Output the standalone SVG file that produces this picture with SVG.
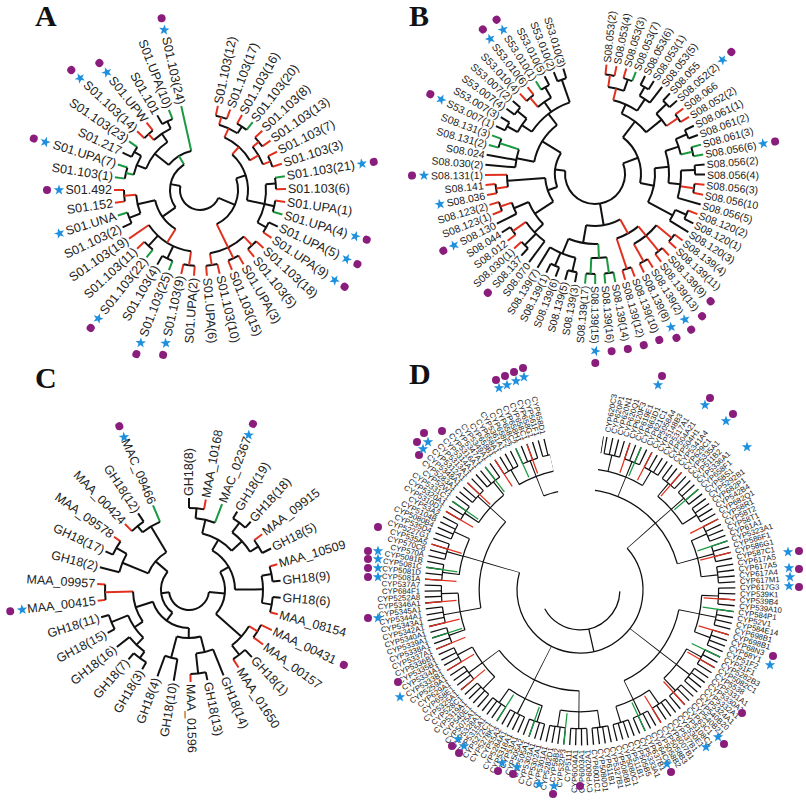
<svg xmlns="http://www.w3.org/2000/svg" xmlns:xlink="http://www.w3.org/1999/xlink" width="806" height="800" viewBox="0 0 806 800">
<style>
text{font-family:"Liberation Sans",Arial,sans-serif;fill:#222;dominant-baseline:central}
.e{text-anchor:end}
.pl{font-family:"Liberation Serif","Times New Roman",serif;font-weight:bold;font-size:30px;dominant-baseline:auto;fill:#111}
path,circle.c{fill:none;stroke-width:2;stroke:#111}
.k{stroke:#111}.r{stroke:#e2301f}.g{stroke:#1a9a40}
.dt{fill:#8a1c7c;stroke:none}
#pA text,#pC text{font-size:12.5px}#pB text{font-size:10.5px}#pD text{font-size:7.8px}
#pD path,#pD circle.c{stroke-width:1.2}
</style>
<defs>
<path id="st" d="M0,-5.5L1.3,-1.8L5.2,-1.7L2.1,0.7L3.2,4.5L0,2.2L-3.2,4.5L-2.1,0.7L-5.2,-1.7L-1.3,-1.8Z" style="fill:#1e90dd;stroke:none"/>
<clipPath id="dclip"><polygon points="0,0 52,-255 260,-260 260,260 -260,260 -260,-260 -43,-256"/></clipPath>
</defs>
<rect width="806" height="800" fill="#fff"/>
<text class="pl" x="35" y="26">A</text>
<text class="pl" x="409" y="26">B</text>
<text class="pl" x="35" y="388">C</text>
<text class="pl" x="409" y="384">D</text>

<!-- PANEL A -->
<g id="pA" transform="translate(200,190)">
<g id="edgesA">
<path class="r" d="M76 0H86" transform="rotate(-78)"/><path class="r" d="M76 0H86" transform="rotate(-69.4)"/><path class="r" d="M76 0H86" transform="rotate(-60.8)"/><path class="g" d="M76 0H86" transform="rotate(-52.2)"/><path class="r" d="M76 0H86" transform="rotate(-43.6)"/><path class="r" d="M76 0H86" transform="rotate(-35)"/><path class="r" d="M76 0H86" transform="rotate(-26.4)"/><path class="r" d="M76 0H86" transform="rotate(-17.8)"/><path class="g" d="M76 0H86" transform="rotate(-9.2)"/><path class="r" d="M76 0H86" transform="rotate(-0.6)"/><path class="r" d="M76 0H86" transform="rotate(8)"/><path class="g" d="M76 0H86" transform="rotate(16.6)"/><path class="k" d="M76 0H86" transform="rotate(25.2)"/><path class="r" d="M76 0H86" transform="rotate(33.8)"/><path class="r" d="M76 0H86" transform="rotate(42.4)"/><path class="r" d="M76 0H86" transform="rotate(51)"/><path class="r" d="M76 0H86" transform="rotate(59.6)"/><path class="r" d="M76 0H86" transform="rotate(68.2)"/><path class="r" d="M76 0H86" transform="rotate(76.8)"/><path class="r" d="M76 0H86" transform="rotate(85.4)"/><path class="r" d="M76 0H86" transform="rotate(94)"/><path class="r" d="M76 0H86" transform="rotate(102.6)"/><path class="g" d="M76 0H86" transform="rotate(111.2)"/><path class="k" d="M76 0H86" transform="rotate(119.8)"/><path class="g" d="M76 0H86" transform="rotate(128.4)"/><path class="r" d="M76 0H86" transform="rotate(137)"/><path class="r" d="M62 0H86" transform="rotate(145.6)"/><path class="k" d="M76 0H86" transform="rotate(154.2)"/><path class="g" d="M76 0H86" transform="rotate(162.8)"/><path class="r" d="M76 0H86" transform="rotate(171.4)"/><path class="r" d="M76 0H86" transform="rotate(180)"/><path class="g" d="M76 0H86" transform="rotate(188.6)"/><path class="g" d="M76 0H86" transform="rotate(197.2)"/><path class="k" d="M76 0H86" transform="rotate(205.8)"/><path class="g" d="M76 0H86" transform="rotate(214.4)"/><path class="r" d="M76 0H86" transform="rotate(223)"/><path class="r" d="M76 0H86" transform="rotate(231.6)"/><path class="k" d="M76 0H86" transform="rotate(240.2)"/><path class="g" d="M76 0H86" transform="rotate(248.8)"/><path class="g" d="M40 0H86" transform="rotate(257.4)"/>
<circle class="c r" r="76" pathLength="360" stroke-dasharray="8.6 999" transform="rotate(-78)"/><circle class="c" r="76" pathLength="360" stroke-dasharray="8.6 999" transform="rotate(-60.8)"/><circle class="c r" r="76" pathLength="360" stroke-dasharray="8.6 999" transform="rotate(-43.6)"/><circle class="c r" r="76" pathLength="360" stroke-dasharray="8.6 999" transform="rotate(-26.4)"/><circle class="c" r="76" pathLength="360" stroke-dasharray="8.6 999" transform="rotate(-9.2)"/><circle class="c" r="76" pathLength="360" stroke-dasharray="8.6 999" transform="rotate(8)"/><circle class="c" r="76" pathLength="360" stroke-dasharray="8.6 999" transform="rotate(25.2)"/><circle class="c r" r="76" pathLength="360" stroke-dasharray="8.6 999" transform="rotate(42.4)"/><circle class="c r" r="76" pathLength="360" stroke-dasharray="8.6 999" transform="rotate(59.6)"/><circle class="c r" r="76" pathLength="360" stroke-dasharray="8.6 999" transform="rotate(76.8)"/><circle class="c r" r="76" pathLength="360" stroke-dasharray="8.6 999" transform="rotate(94)"/><circle class="c" r="76" pathLength="360" stroke-dasharray="8.6 999" transform="rotate(111.2)"/><circle class="c" r="76" pathLength="360" stroke-dasharray="8.6 999" transform="rotate(128.4)"/><circle class="c" r="76" pathLength="360" stroke-dasharray="8.6 999" transform="rotate(154.2)"/><circle class="c r" r="76" pathLength="360" stroke-dasharray="8.6 999" transform="rotate(171.4)"/><circle class="c g" r="76" pathLength="360" stroke-dasharray="8.6 999" transform="rotate(188.6)"/><circle class="c" r="76" pathLength="360" stroke-dasharray="8.6 999" transform="rotate(205.8)"/><circle class="c r" r="76" pathLength="360" stroke-dasharray="8.6 999" transform="rotate(223)"/><circle class="c" r="76" pathLength="360" stroke-dasharray="8.6 999" transform="rotate(240.2)"/>
<path class="r" d="M68 0H76" transform="rotate(-73.7)"/><path d="M68 0H76" transform="rotate(-56.5)"/><path class="r" d="M68 0H76" transform="rotate(-39.3)"/><path class="r" d="M68 0H76" transform="rotate(-22.1)"/><path d="M66 0H76" transform="rotate(-4.9)"/><path d="M66 0H76" transform="rotate(12.3)"/><path d="M66 0H76" transform="rotate(29.5)"/><path class="r" d="M64 0H76" transform="rotate(46.7)"/><path class="r" d="M64 0H76" transform="rotate(63.9)"/><path class="r" d="M64 0H76" transform="rotate(81.1)"/><path class="r" d="M62 0H76" transform="rotate(98.3)"/><path d="M62 0H76" transform="rotate(115.5)"/><path d="M62 0H76" transform="rotate(132.7)"/><path d="M64 0H76" transform="rotate(158.5)"/><path class="r" d="M64 0H76" transform="rotate(175.7)"/><path class="g" d="M68 0H76" transform="rotate(192.9)"/><path d="M68 0H76" transform="rotate(210.1)"/><path class="r" d="M68 0H76" transform="rotate(227.3)"/><path d="M68 0H76" transform="rotate(244.5)"/>
<circle class="c r" r="68" pathLength="360" stroke-dasharray="17.2 999" transform="rotate(-73.7)"/><circle class="c r" r="68" pathLength="360" stroke-dasharray="17.2 999" transform="rotate(-39.3)"/><circle class="c" r="68" pathLength="360" stroke-dasharray="17.2 999" transform="rotate(192.9)"/><circle class="c" r="68" pathLength="360" stroke-dasharray="17.2 999" transform="rotate(227.3)"/>
<path class="r" d="M58 0H68" transform="rotate(-65.1)"/><path class="r" d="M58 0H68" transform="rotate(-30.7)"/><path d="M58 0H68" transform="rotate(201.5)"/><path d="M58 0H68" transform="rotate(235.9)"/>
<circle class="c r" r="58" pathLength="360" stroke-dasharray="34.4 999" transform="rotate(-65.1)"/><path class="r" d="M48 0H58" transform="rotate(-47.9)"/>
<circle class="c" r="66" pathLength="360" stroke-dasharray="34.4 999" transform="rotate(-4.9)"/><path d="M48 0H66" transform="rotate(12.3)"/>
<circle class="c" r="48" pathLength="360" stroke-dasharray="60.2 999" transform="rotate(-47.9)"/><path d="M38 0H48" transform="rotate(-17.8)"/>
<circle class="c r" r="64" pathLength="360" stroke-dasharray="34.4 999" transform="rotate(46.7)"/><path class="r" d="M38 0H64" transform="rotate(63.9)"/>
<circle class="c" r="38" pathLength="360" stroke-dasharray="81.7 999" transform="rotate(-17.8)"/><path d="M20 0H38" transform="rotate(23.05)"/>
<circle class="c r" r="62" pathLength="360" stroke-dasharray="47.3 999" transform="rotate(98.3)"/><path class="r" d="M46 0H62" transform="rotate(122)"/>
<circle class="c" r="64" pathLength="360" stroke-dasharray="17.2 999" transform="rotate(158.5)"/><path d="M46 0H64" transform="rotate(167.1)"/>
<circle class="c" r="46" pathLength="360" stroke-dasharray="45.1 999" transform="rotate(122)"/><path d="M30 0H46" transform="rotate(144.55)"/>
<circle class="c" r="58" pathLength="360" stroke-dasharray="34.4 999" transform="rotate(201.5)"/><path d="M40 0H58" transform="rotate(218.7)"/>
<circle class="c g" r="40" pathLength="360" stroke-dasharray="38.7 999" transform="rotate(218.7)"/><path class="g" d="M30 0H40" transform="rotate(238.05)"/>
<circle class="c" r="30" pathLength="360" stroke-dasharray="93.5 999" transform="rotate(144.55)"/><path d="M20 0H30" transform="rotate(191.3)"/>
<circle class="c" r="20" pathLength="360" stroke-dasharray="168.25 999" transform="rotate(23.05)"/>
</g>
<g id="labelsA">
<text transform="rotate(-78)" x="88">S01.103(12)</text><text transform="rotate(-69.4)" x="88">S01.103(17)</text><text transform="rotate(-60.8)" x="88">S01.103(16)</text><text transform="rotate(-52.2)" x="88">S01.103(20)</text><text transform="rotate(-43.6)" x="88">S01.103(8)</text><text transform="rotate(-35)" x="88">S01.103(13)</text><text transform="rotate(-26.4)" x="88">S01.103(7)</text><text transform="rotate(-17.8)" x="88">S01.103(3)</text><text transform="rotate(-9.2)" x="88">S01.103(21)</text><text transform="rotate(-0.6)" x="88">S01.103(6)</text><text transform="rotate(8)" x="88">S01.UPA(1)</text><text transform="rotate(16.6)" x="88">S01.UPA(4)</text><text transform="rotate(25.2)" x="88">S01.UPA(5)</text><text transform="rotate(33.8)" x="88">S01.UPA(9)</text><text transform="rotate(42.4)" x="88">S01.103(18)</text><text transform="rotate(51)" x="88">S01.103(5)</text><text transform="rotate(59.6)" x="88">S01.UPA(3)</text><text transform="rotate(68.2)" x="88">S01.103(15)</text><text transform="rotate(76.8)" x="88">S01.103(10)</text><text transform="rotate(85.4)" x="88">S01.UPA(6)</text>
<text class="e" transform="rotate(-86)" x="-88">S01.UPA(2)</text><text class="e" transform="rotate(-77.4)" x="-88">S01.103(9)</text><text class="e" transform="rotate(-68.8)" x="-88">S01.103(25)</text><text class="e" transform="rotate(-60.2)" x="-88">S01.103(4)</text><text class="e" transform="rotate(-51.6)" x="-88">S01.103(22)</text><text class="e" transform="rotate(-43)" x="-88">S01.103(11)</text><text class="e" transform="rotate(-34.4)" x="-88">S01.103(19)</text><text class="e" transform="rotate(-25.8)" x="-88">S01.103(2)</text><text class="e" transform="rotate(-17.2)" x="-88">S01.UNA</text><text class="e" transform="rotate(-8.6)" x="-88">S01.152</text><text class="e" transform="rotate(0)" x="-88">S01.492</text><text class="e" transform="rotate(8.6)" x="-88">S01.103(1)</text><text class="e" transform="rotate(17.2)" x="-88">S01.UPA(7)</text><text class="e" transform="rotate(25.8)" x="-88">S01.217</text><text class="e" transform="rotate(34.4)" x="-88">S01.103(23)</text><text class="e" transform="rotate(43)" x="-88">S01.103(14)</text><text class="e" transform="rotate(51.6)" x="-88">S01.UPW</text><text class="e" transform="rotate(60.2)" x="-88">S01.101</text><text class="e" transform="rotate(68.8)" x="-88">S01.UPA(10)</text><text class="e" transform="rotate(77.4)" x="-88">S01.103(24)</text>
</g>
<g id="marksA">
<use href="#st" transform="rotate(77.4) translate(-164,0)"/><circle class="dt" r="4" cx="-176" transform="rotate(77.4)"/>
<use href="#st" transform="rotate(51.6) translate(-150,0)"/><circle class="dt" r="4" cx="-162" transform="rotate(51.6)"/>
<use href="#st" transform="rotate(43) translate(-164,0)"/><circle class="dt" r="4" cx="-176" transform="rotate(43)"/>
<use href="#st" transform="rotate(17.2) translate(-162,0)"/><circle class="dt" r="4" cx="-174" transform="rotate(17.2)"/>
<use href="#st" transform="rotate(0) translate(-141,0)"/><circle class="dt" r="4" cx="-153" transform="rotate(0)"/>
<use href="#st" transform="rotate(-17.2) translate(-147,0)"/>
<use href="#st" transform="rotate(-9.2) translate(164,0)"/><circle class="dt" r="4" cx="176" transform="rotate(-9.2)"/>
<use href="#st" transform="rotate(16.6) translate(162,0)"/><circle class="dt" r="4" cx="174" transform="rotate(16.6)"/>
<use href="#st" transform="rotate(25.2) translate(162,0)"/><circle class="dt" r="4" cx="174" transform="rotate(25.2)"/>
<use href="#st" transform="rotate(33.8) translate(162,0)"/><circle class="dt" r="4" cx="174" transform="rotate(33.8)"/>
<use href="#st" transform="rotate(-51.6) translate(-164,0)"/><circle class="dt" r="4" cx="-176" transform="rotate(-51.6)"/>
<use href="#st" transform="rotate(-68.8) translate(-164,0)"/><circle class="dt" r="4" cx="-176" transform="rotate(-68.8)"/>
<use href="#st" transform="rotate(-77.4) translate(-157,0)"/><circle class="dt" r="4" cx="-169" transform="rotate(-77.4)"/>
</g>
</g>

<!-- PANEL B -->
<g id="pB" transform="translate(595,174)">
<g id="edgesB">
<path class="r" d="M100 0H110" transform="rotate(-84)"/><path class="r" d="M100 0H110" transform="rotate(-78.73)"/><path class="r" d="M100 0H110" transform="rotate(-73.46)"/><path class="g" d="M100 0H110" transform="rotate(-68.19)"/><path d="M100 0H110" transform="rotate(-62.92)"/><path d="M100 0H110" transform="rotate(-57.65)"/><path d="M90 0H110" transform="rotate(-52.38)"/><path d="M100 0H110" transform="rotate(-47.11)"/><path d="M100 0H110" transform="rotate(-41.84)"/><path class="r" d="M100 0H110" transform="rotate(-36.57)"/><path class="r" d="M100 0H110" transform="rotate(-31.3)"/><path d="M100 0H110" transform="rotate(-26.03)"/><path d="M100 0H110" transform="rotate(-20.76)"/><path class="g" d="M100 0H110" transform="rotate(-15.49)"/><path class="g" d="M100 0H110" transform="rotate(-10.22)"/><path d="M100 0H110" transform="rotate(-4.95)"/><path d="M100 0H110" transform="rotate(0.32)"/><path class="r" d="M100 0H110" transform="rotate(5.59)"/><path class="r" d="M100 0H110" transform="rotate(10.86)"/><path d="M86 0H110" transform="rotate(16.13)"/><path class="r" d="M100 0H110" transform="rotate(21.4)"/><path d="M100 0H110" transform="rotate(26.67)"/><path d="M88 0H110" transform="rotate(31.94)"/><path class="r" d="M100 0H110" transform="rotate(37.21)"/><path class="r" d="M100 0H110" transform="rotate(42.48)"/><path class="r" d="M100 0H110" transform="rotate(47.75)"/><path class="r" d="M100 0H110" transform="rotate(53.02)"/><path class="r" d="M100 0H110" transform="rotate(58.29)"/><path class="r" d="M100 0H110" transform="rotate(63.56)"/><path class="r" d="M100 0H110" transform="rotate(68.83)"/><path class="r" d="M100 0H110" transform="rotate(74.1)"/><path class="g" d="M100 0H110" transform="rotate(79.37)"/><path class="g" d="M100 0H110" transform="rotate(84.64)"/><path class="g" d="M100 0H110" transform="rotate(89.91)"/><path class="g" d="M100 0H110" transform="rotate(95.18)"/><path d="M100 0H110" transform="rotate(100.45)"/><path d="M100 0H110" transform="rotate(105.72)"/><path d="M100 0H110" transform="rotate(110.99)"/><path d="M100 0H110" transform="rotate(116.26)"/><path d="M86 0H110" transform="rotate(121.53)"/><path d="M84 0H110" transform="rotate(126.8)"/><path d="M100 0H110" transform="rotate(132.07)"/><path class="r" d="M100 0H110" transform="rotate(137.34)"/><path class="r" d="M100 0H110" transform="rotate(142.61)"/><path d="M100 0H110" transform="rotate(147.88)"/><path d="M88 0H110" transform="rotate(153.15)"/><path class="r" d="M100 0H110" transform="rotate(158.42)"/><path class="r" d="M100 0H110" transform="rotate(163.69)"/><path class="r" d="M100 0H110" transform="rotate(168.96)"/><path class="r" d="M100 0H110" transform="rotate(174.23)"/><path class="r" d="M88 0H110" transform="rotate(179.5)"/><path d="M80 0H110" transform="rotate(184.77)"/><path d="M80 0H110" transform="rotate(190.04)"/><path class="g" d="M100 0H110" transform="rotate(195.31)"/><path class="g" d="M100 0H110" transform="rotate(200.58)"/><path d="M100 0H110" transform="rotate(205.85)"/><path d="M100 0H110" transform="rotate(211.12)"/><path d="M100 0H110" transform="rotate(216.39)"/><path d="M100 0H110" transform="rotate(221.66)"/><path class="r" d="M100 0H110" transform="rotate(226.93)"/><path class="r" d="M100 0H110" transform="rotate(232.2)"/><path class="g" d="M100 0H110" transform="rotate(237.47)"/><path d="M100 0H110" transform="rotate(242.74)"/><path d="M100 0H110" transform="rotate(248.01)"/><path d="M100 0H110" transform="rotate(253.28)"/>
<circle class="c r" r="100" pathLength="360" stroke-dasharray="5.27 999" transform="rotate(-84)"/><circle class="c" r="100" pathLength="360" stroke-dasharray="5.27 999" transform="rotate(-73.46)"/><circle class="c" r="100" pathLength="360" stroke-dasharray="5.27 999" transform="rotate(-62.92)"/><circle class="c" r="100" pathLength="360" stroke-dasharray="5.27 999" transform="rotate(-47.11)"/><circle class="c r" r="100" pathLength="360" stroke-dasharray="5.27 999" transform="rotate(-36.57)"/><circle class="c" r="100" pathLength="360" stroke-dasharray="5.27 999" transform="rotate(-26.03)"/><circle class="c g" r="100" pathLength="360" stroke-dasharray="5.27 999" transform="rotate(-15.49)"/><circle class="c" r="100" pathLength="360" stroke-dasharray="5.27 999" transform="rotate(-4.95)"/><circle class="c r" r="100" pathLength="360" stroke-dasharray="5.27 999" transform="rotate(5.59)"/><circle class="c" r="100" pathLength="360" stroke-dasharray="5.27 999" transform="rotate(21.4)"/><circle class="c r" r="100" pathLength="360" stroke-dasharray="5.27 999" transform="rotate(37.21)"/><circle class="c r" r="100" pathLength="360" stroke-dasharray="5.27 999" transform="rotate(47.75)"/><circle class="c r" r="100" pathLength="360" stroke-dasharray="5.27 999" transform="rotate(58.29)"/><circle class="c r" r="100" pathLength="360" stroke-dasharray="5.27 999" transform="rotate(68.83)"/><circle class="c g" r="100" pathLength="360" stroke-dasharray="5.27 999" transform="rotate(79.37)"/><circle class="c g" r="100" pathLength="360" stroke-dasharray="5.27 999" transform="rotate(89.91)"/><circle class="c" r="100" pathLength="360" stroke-dasharray="5.27 999" transform="rotate(100.45)"/><circle class="c" r="100" pathLength="360" stroke-dasharray="5.27 999" transform="rotate(110.99)"/><circle class="c" r="100" pathLength="360" stroke-dasharray="5.27 999" transform="rotate(132.07)"/><circle class="c r" r="100" pathLength="360" stroke-dasharray="5.27 999" transform="rotate(142.61)"/><circle class="c r" r="100" pathLength="360" stroke-dasharray="5.27 999" transform="rotate(158.42)"/><circle class="c r" r="100" pathLength="360" stroke-dasharray="5.27 999" transform="rotate(168.96)"/><circle class="c g" r="100" pathLength="360" stroke-dasharray="5.27 999" transform="rotate(195.31)"/><circle class="c" r="100" pathLength="360" stroke-dasharray="5.27 999" transform="rotate(205.85)"/><circle class="c" r="100" pathLength="360" stroke-dasharray="5.27 999" transform="rotate(216.39)"/><circle class="c r" r="100" pathLength="360" stroke-dasharray="5.27 999" transform="rotate(226.93)"/><circle class="c" r="100" pathLength="360" stroke-dasharray="5.27 999" transform="rotate(237.47)"/><circle class="c" r="100" pathLength="360" stroke-dasharray="5.27 999" transform="rotate(248.01)"/>
<path class="r" d="M88 0H100" transform="rotate(-81.37)"/><path d="M88 0H100" transform="rotate(-70.83)"/><path d="M90 0H100" transform="rotate(-60.29)"/><path d="M86 0H100" transform="rotate(-44.48)"/><path class="r" d="M86 0H100" transform="rotate(-33.94)"/><path d="M88 0H100" transform="rotate(-23.4)"/><path class="g" d="M88 0H100" transform="rotate(-12.86)"/><path d="M86 0H100" transform="rotate(-2.32)"/><path class="r" d="M86 0H100" transform="rotate(8.23)"/><path d="M88 0H100" transform="rotate(24.04)"/><path class="r" d="M80 0H100" transform="rotate(39.85)"/><path class="r" d="M80 0H100" transform="rotate(50.39)"/><path class="r" d="M80 0H100" transform="rotate(60.93)"/><path class="r" d="M68 0H100" transform="rotate(71.47)"/><path class="g" d="M84 0H100" transform="rotate(82)"/><path class="g" d="M84 0H100" transform="rotate(92.55)"/><path d="M86 0H100" transform="rotate(103.1)"/><path d="M86 0H100" transform="rotate(113.6)"/><path d="M84 0H100" transform="rotate(134.7)"/><path class="r" d="M84 0H100" transform="rotate(145.2)"/><path class="r" d="M88 0H100" transform="rotate(161.05)"/><path class="r" d="M88 0H100" transform="rotate(171.6)"/><path class="g" d="M80 0H100" transform="rotate(197.9)"/><path d="M88 0H100" transform="rotate(208.5)"/><path d="M88 0H100" transform="rotate(219)"/><path class="r" d="M88 0H100" transform="rotate(229.6)"/><path d="M88 0H100" transform="rotate(240.1)"/><path d="M76 0H100" transform="rotate(250.6)"/>
<circle class="c r" r="88" pathLength="360" stroke-dasharray="10.54 999" transform="rotate(-81.37)"/><circle class="c" r="90" pathLength="360" stroke-dasharray="7.91 999" transform="rotate(-60.29)"/><circle class="c" r="76" pathLength="360" stroke-dasharray="19.8 999" transform="rotate(-76.1)"/><circle class="c" r="86" pathLength="360" stroke-dasharray="10.54 999" transform="rotate(-44.48)"/><circle class="c" r="66" pathLength="360" stroke-dasharray="27 999" transform="rotate(-66.2)"/><circle class="c" r="88" pathLength="360" stroke-dasharray="10.54 999" transform="rotate(-23.4)"/><circle class="c" r="86" pathLength="360" stroke-dasharray="18.45 999" transform="rotate(-2.32)"/><circle class="c" r="74" pathLength="360" stroke-dasharray="25 999" transform="rotate(-18.1)"/><circle class="c" r="88" pathLength="360" stroke-dasharray="7.9 999" transform="rotate(24.04)"/><circle class="c" r="60" pathLength="360" stroke-dasharray="33.6 999" transform="rotate(-5.6)"/><circle class="c" r="46" pathLength="360" stroke-dasharray="63.95 999" transform="rotate(-52.7)"/>
<circle class="c r" r="80" pathLength="360" stroke-dasharray="21.08 999" transform="rotate(39.85)"/><circle class="c r" r="68" pathLength="360" stroke-dasharray="21.08 999" transform="rotate(50.39)"/><circle class="c g" r="84" pathLength="360" stroke-dasharray="10.55 999" transform="rotate(82)"/><circle class="c" r="86" pathLength="360" stroke-dasharray="18.43 999" transform="rotate(103.1)"/><circle class="c" r="70" pathLength="360" stroke-dasharray="25 999" transform="rotate(87.3)"/><circle class="c" r="52" pathLength="360" stroke-dasharray="38.87 999" transform="rotate(60.93)"/>
<circle class="c" r="84" pathLength="360" stroke-dasharray="18.4 999" transform="rotate(126.8)"/><circle class="c" r="88" pathLength="360" stroke-dasharray="7.9 999" transform="rotate(153.15)"/><circle class="c" r="72" pathLength="360" stroke-dasharray="21.1 999" transform="rotate(136)"/><circle class="c r" r="88" pathLength="360" stroke-dasharray="7.9 999" transform="rotate(171.6)"/><circle class="c" r="50" pathLength="360" stroke-dasharray="29 999" transform="rotate(146.55)"/><circle class="c" r="80" pathLength="360" stroke-dasharray="13.13 999" transform="rotate(184.77)"/><circle class="c" r="88" pathLength="360" stroke-dasharray="10.5 999" transform="rotate(208.5)"/><circle class="c" r="88" pathLength="360" stroke-dasharray="10.5 999" transform="rotate(229.6)"/><circle class="c" r="76" pathLength="360" stroke-dasharray="36.85 999" transform="rotate(213.75)"/><circle class="c" r="62" pathLength="360" stroke-dasharray="40.9 999" transform="rotate(191.3)"/><circle class="c" r="40" pathLength="360" stroke-dasharray="50.75 999" transform="rotate(161)"/><circle class="c" r="30" pathLength="360" stroke-dasharray="207.15 999" transform="rotate(-20.75)"/>
<path class="r" d="M76 0H88" transform="rotate(-76.1)"/><path d="M76 0H90" transform="rotate(-56.3)"/><path d="M66 0H76" transform="rotate(-66.2)"/><path d="M66 0H86" transform="rotate(-39.2)"/><path d="M46 0H66" transform="rotate(-52.7)"/><path d="M74 0H88" transform="rotate(-18.1)"/><path d="M74 0H86" transform="rotate(6.9)"/><path d="M60 0H74" transform="rotate(-5.6)"/><path d="M60 0H88" transform="rotate(28)"/><path d="M46 0H60" transform="rotate(11.2)"/><path d="M30 0H46" transform="rotate(-20.75)"/><path class="r" d="M68 0H80" transform="rotate(50.39)"/><path class="r" d="M52 0H68" transform="rotate(60.93)"/><path class="g" d="M70 0H84" transform="rotate(87.3)"/><path d="M70 0H86" transform="rotate(112.3)"/><path d="M52 0H70" transform="rotate(99.8)"/><path d="M30 0H52" transform="rotate(80.4)"/><path d="M72 0H84" transform="rotate(136)"/><path d="M72 0H88" transform="rotate(157.1)"/><path d="M50 0H72" transform="rotate(146.55)"/><path d="M50 0H88" transform="rotate(175.55)"/><path d="M40 0H50" transform="rotate(161)"/><path d="M62 0H80" transform="rotate(191.3)"/><path d="M76 0H88" transform="rotate(213.75)"/><path d="M76 0H88" transform="rotate(234.85)"/><path d="M62 0H76" transform="rotate(232.2)"/><path d="M40 0H62" transform="rotate(211.75)"/><path d="M30 0H40" transform="rotate(186.4)"/>
</g>
<g id="labelsB">
<text transform="rotate(-84)" x="112">S08.053(2)</text><text transform="rotate(-78.73)" x="112">S08.053(4)</text><text transform="rotate(-73.46)" x="112">S08.053(3)</text><text transform="rotate(-68.19)" x="112">S08.053(7)</text><text transform="rotate(-62.92)" x="112">S08.053(6)</text><text transform="rotate(-57.65)" x="112">S08.053(1)</text><text transform="rotate(-52.38)" x="112">S08.053(5)</text><text transform="rotate(-47.11)" x="112">S08.055</text><text transform="rotate(-41.84)" x="112">S08.052(2)</text><text transform="rotate(-36.57)" x="112">S08.066</text><text transform="rotate(-31.3)" x="112">S08.052(2)</text><text transform="rotate(-26.03)" x="112">S08.061(1)</text><text transform="rotate(-20.76)" x="112">S08.061(2)</text><text transform="rotate(-15.49)" x="112">S08.061(3)</text><text transform="rotate(-10.22)" x="112">S08.056(6)</text><text transform="rotate(-4.95)" x="112">S08.056(2)</text><text transform="rotate(0.32)" x="112">S08.056(4)</text><text transform="rotate(5.59)" x="112">S08.056(3)</text><text transform="rotate(10.86)" x="112">S08.056(10</text><text transform="rotate(16.13)" x="112">S08.056(5)</text><text transform="rotate(21.4)" x="112">S08.120(2)</text><text transform="rotate(26.67)" x="112">S08.120(1)</text><text transform="rotate(31.94)" x="112">S08.120(3)</text><text transform="rotate(37.21)" x="112">S08.139(4)</text><text transform="rotate(42.48)" x="112">S08.139(11)</text><text transform="rotate(47.75)" x="112">S08.139(9)</text><text transform="rotate(53.02)" x="112">S08.139(13)</text><text transform="rotate(58.29)" x="112">S08.139(2)</text><text transform="rotate(63.56)" x="112">S08.139(8)</text><text transform="rotate(68.83)" x="112">S08.139(10)</text><text transform="rotate(74.1)" x="112">S08.139(12)</text><text transform="rotate(79.37)" x="112">S08.139(14)</text><text transform="rotate(84.64)" x="112">S08.139(16)</text><text transform="rotate(89.91)" x="112">S08.139(15)</text>
<text class="e" transform="rotate(-84.82)" x="-112">S08.139(17)</text><text class="e" transform="rotate(-79.55)" x="-112">S08.139(3)</text><text class="e" transform="rotate(-74.28)" x="-112">S08.139(5)</text><text class="e" transform="rotate(-69.01)" x="-112">S08.139(6)</text><text class="e" transform="rotate(-63.74)" x="-112">S08.139(1)</text><text class="e" transform="rotate(-58.47)" x="-112">S08.139(7)</text><text class="e" transform="rotate(-53.2)" x="-112">S08.070</text><text class="e" transform="rotate(-47.93)" x="-112">S08.137</text><text class="e" transform="rotate(-42.66)" x="-112">S08.030(1)</text><text class="e" transform="rotate(-37.39)" x="-112">S08.012</text><text class="e" transform="rotate(-32.12)" x="-112">S08.044</text><text class="e" transform="rotate(-26.85)" x="-112">S08.130</text><text class="e" transform="rotate(-21.58)" x="-112">S08.123(1)</text><text class="e" transform="rotate(-16.31)" x="-112">S08.123(2)</text><text class="e" transform="rotate(-11.04)" x="-112">S08.036</text><text class="e" transform="rotate(-5.77)" x="-112">S08.141</text><text class="e" transform="rotate(-0.5)" x="-112">S08.131(1)</text><text class="e" transform="rotate(4.77)" x="-112">S08.030(2)</text><text class="e" transform="rotate(10.04)" x="-112">S08.024</text><text class="e" transform="rotate(15.31)" x="-112">S08.131(2)</text><text class="e" transform="rotate(20.58)" x="-112">S08.131(3)</text><text class="e" transform="rotate(25.85)" x="-112">S53.007(1)</text><text class="e" transform="rotate(31.12)" x="-112">S53.007(3)</text><text class="e" transform="rotate(36.39)" x="-112">S53.007(4)</text><text class="e" transform="rotate(41.66)" x="-112">S53.007(2)</text><text class="e" transform="rotate(46.93)" x="-112">S53.010(4)</text><text class="e" transform="rotate(52.2)" x="-112">S53.010(6)</text><text class="e" transform="rotate(57.47)" x="-112">S53.010(1)</text><text class="e" transform="rotate(62.74)" x="-112">S53.010(5)</text><text class="e" transform="rotate(68.01)" x="-112">S53.010(2)</text><text class="e" transform="rotate(73.28)" x="-112">S53.010(3)</text>
</g>
<g id="marksB">
<use href="#st" transform="rotate(-41.84) translate(171,0)"/><circle class="dt" r="4" cx="183" transform="rotate(-41.84)"/>
<use href="#st" transform="rotate(-10.22) translate(171,0)"/><circle class="dt" r="4" cx="183" transform="rotate(-10.22)"/>
<circle class="dt" r="4" cx="172" transform="rotate(47.75)"/><circle class="dt" r="4" cx="178" transform="rotate(53.02)"/>
<use href="#st" transform="rotate(58.29) translate(171,0)"/><circle class="dt" r="4" cx="183" transform="rotate(58.29)"/>
<use href="#st" transform="rotate(63.56) translate(171,0)"/><circle class="dt" r="4" cx="183" transform="rotate(63.56)"/>
<circle class="dt" r="4" cx="178" transform="rotate(68.83)"/><circle class="dt" r="4" cx="178" transform="rotate(74.1)"/><circle class="dt" r="4" cx="178" transform="rotate(79.37)"/><circle class="dt" r="4" cx="178" transform="rotate(84.64)"/>
<use href="#st" transform="rotate(89.91) translate(177,0)"/><circle class="dt" r="4" cx="189" transform="rotate(89.91)"/>
<circle class="dt" r="4" cx="-160" transform="rotate(-47.93)"/>
<use href="#st" transform="rotate(-26.85) translate(-158,0)"/><circle class="dt" r="4" cx="-170" transform="rotate(-26.85)"/>
<use href="#st" transform="rotate(-11.04) translate(-158,0)"/>
<use href="#st" transform="rotate(-0.5) translate(-171,0)"/><circle class="dt" r="4" cx="-183" transform="rotate(-0.5)"/>
<use href="#st" transform="rotate(25.85) translate(-171,0)"/><circle class="dt" r="4" cx="-183" transform="rotate(25.85)"/>
<use href="#st" transform="rotate(52.2) translate(-171,0)"/><circle class="dt" r="4" cx="-183" transform="rotate(52.2)"/>
<use href="#st" transform="rotate(57.47) translate(-171,0)"/><circle class="dt" r="4" cx="-183" transform="rotate(57.47)"/>
</g>
</g>

<!-- PANEL C -->
<g id="pC" transform="translate(189,590)">
<g id="edgesC">
<path d="M82 0H92" transform="rotate(-90)"/><path class="r" d="M82 0H92" transform="rotate(-79.47)"/><path class="g" d="M72 0H92" transform="rotate(-68.94)"/><path d="M84 0H92" transform="rotate(-58.41)"/><path d="M84 0H92" transform="rotate(-47.88)"/><path class="r" d="M82 0H92" transform="rotate(-37.35)"/><path d="M82 0H92" transform="rotate(-26.82)"/><path class="r" d="M84 0H92" transform="rotate(-16.29)"/><path d="M84 0H92" transform="rotate(-5.76)"/><path d="M84 0H92" transform="rotate(4.77)"/><path class="r" d="M84 0H92" transform="rotate(15.3)"/><path class="r" d="M80 0H92" transform="rotate(25.83)"/><path class="r" d="M80 0H92" transform="rotate(36.36)"/><path d="M82 0H92" transform="rotate(46.89)"/><path class="r" d="M82 0H92" transform="rotate(57.42)"/><path d="M64 0H92" transform="rotate(67.95)"/><path d="M84 0H92" transform="rotate(78.48)"/><path class="r" d="M84 0H92" transform="rotate(89.01)"/><path d="M70 0H92" transform="rotate(99.54)"/><path d="M70 0H92" transform="rotate(110.07)"/><path d="M84 0H92" transform="rotate(120.6)"/><path d="M84 0H92" transform="rotate(131.13)"/><path d="M76 0H92" transform="rotate(141.66)"/><path d="M84 0H92" transform="rotate(152.19)"/><path d="M84 0H92" transform="rotate(162.72)"/><path class="r" d="M84 0H92" transform="rotate(173.25)"/><path class="r" d="M84 0H92" transform="rotate(183.78)"/><path d="M72 0H92" transform="rotate(194.31)"/><path d="M84 0H92" transform="rotate(204.84)"/><path class="r" d="M84 0H92" transform="rotate(215.37)"/><path class="r" d="M82 0H92" transform="rotate(225.9)"/><path d="M82 0H92" transform="rotate(236.43)"/><path class="g" d="M74 0H92" transform="rotate(246.96)"/>
<circle class="c" r="82" pathLength="360" stroke-dasharray="10.53 999" transform="rotate(-90)"/><circle class="c" r="84" pathLength="360" stroke-dasharray="10.53 999" transform="rotate(-58.41)"/><circle class="c" r="82" pathLength="360" stroke-dasharray="10.53 999" transform="rotate(-37.35)"/><circle class="c" r="84" pathLength="360" stroke-dasharray="10.53 999" transform="rotate(-16.29)"/><circle class="c" r="84" pathLength="360" stroke-dasharray="10.53 999" transform="rotate(4.77)"/><circle class="c r" r="80" pathLength="360" stroke-dasharray="10.53 999" transform="rotate(25.83)"/><circle class="c" r="82" pathLength="360" stroke-dasharray="10.53 999" transform="rotate(46.89)"/><circle class="c" r="84" pathLength="360" stroke-dasharray="10.53 999" transform="rotate(78.48)"/><circle class="c" r="70" pathLength="360" stroke-dasharray="10.53 999" transform="rotate(99.54)"/><circle class="c" r="84" pathLength="360" stroke-dasharray="10.53 999" transform="rotate(120.6)"/><circle class="c" r="84" pathLength="360" stroke-dasharray="10.53 999" transform="rotate(152.19)"/><circle class="c r" r="84" pathLength="360" stroke-dasharray="10.53 999" transform="rotate(173.25)"/><circle class="c" r="84" pathLength="360" stroke-dasharray="10.53 999" transform="rotate(204.84)"/><circle class="c" r="82" pathLength="360" stroke-dasharray="10.53 999" transform="rotate(225.9)"/>
<path d="M72 0H82" transform="rotate(-84.74)"/><path d="M72 0H84" transform="rotate(-53.15)"/><path d="M72 0H82" transform="rotate(-32.09)"/><path d="M74 0H84" transform="rotate(-11.03)"/><path d="M74 0H84" transform="rotate(10.03)"/><path class="r" d="M70 0H80" transform="rotate(31.1)"/><path d="M70 0H82" transform="rotate(52.16)"/><path d="M64 0H84" transform="rotate(83.75)"/><path d="M48 0H70" transform="rotate(104.8)"/><path d="M76 0H84" transform="rotate(125.87)"/><path d="M66 0H84" transform="rotate(157.46)"/><path class="r" d="M56 0H84" transform="rotate(178.5)"/><path d="M72 0H84" transform="rotate(210.1)"/><path d="M74 0H82" transform="rotate(231.2)"/>
<circle class="c" r="72" pathLength="360" stroke-dasharray="15.8 999" transform="rotate(-84.74)"/><path d="M58 0H72" transform="rotate(-76.84)"/>
<circle class="c" r="72" pathLength="360" stroke-dasharray="21.06 999" transform="rotate(-53.15)"/><path d="M58 0H72" transform="rotate(-42.62)"/>
<circle class="c" r="58" pathLength="360" stroke-dasharray="34.22 999" transform="rotate(-76.84)"/><path d="M46 0H58" transform="rotate(-59.73)"/>
<circle class="c" r="74" pathLength="360" stroke-dasharray="21.06 999" transform="rotate(-11.03)"/><path d="M46 0H74" transform="rotate(-0.5)"/>
<circle class="c" r="46" pathLength="360" stroke-dasharray="59.23 999" transform="rotate(-59.73)"/><path d="M36 0H46" transform="rotate(-30.1)"/>
<circle class="c" r="70" pathLength="360" stroke-dasharray="21.06 999" transform="rotate(31.1)"/><path d="M36 0H70" transform="rotate(41.63)"/>
<circle class="c" r="36" pathLength="360" stroke-dasharray="71.73 999" transform="rotate(-30.1)"/><path d="M20 0H36" transform="rotate(5.75)"/>
<circle class="c" r="64" pathLength="360" stroke-dasharray="15.8 999" transform="rotate(67.95)"/><path d="M48 0H64" transform="rotate(75.85)"/>
<circle class="c" r="48" pathLength="360" stroke-dasharray="28.95 999" transform="rotate(75.85)"/><path d="M38 0H48" transform="rotate(90.3)"/>
<circle class="c" r="76" pathLength="360" stroke-dasharray="15.79 999" transform="rotate(125.87)"/><path d="M66 0H76" transform="rotate(133.77)"/>
<circle class="c" r="66" pathLength="360" stroke-dasharray="23.69 999" transform="rotate(133.77)"/><path d="M56 0H66" transform="rotate(145.6)"/>
<circle class="c" r="56" pathLength="360" stroke-dasharray="32.9 999" transform="rotate(145.6)"/><path d="M38 0H56" transform="rotate(162.05)"/>
<circle class="c" r="38" pathLength="360" stroke-dasharray="71.75 999" transform="rotate(90.3)"/><path d="M28 0H38" transform="rotate(126.2)"/>
<circle class="c" r="72" pathLength="360" stroke-dasharray="15.79 999" transform="rotate(194.31)"/><path d="M44 0H72" transform="rotate(202.2)"/>
<circle class="c" r="74" pathLength="360" stroke-dasharray="15.76 999" transform="rotate(231.2)"/><path d="M44 0H74" transform="rotate(239.1)"/>
<circle class="c" r="44" pathLength="360" stroke-dasharray="36.9 999" transform="rotate(202.2)"/><path d="M28 0H44" transform="rotate(220.6)"/>
<circle class="c" r="28" pathLength="360" stroke-dasharray="94.4 999" transform="rotate(126.2)"/><path d="M20 0H28" transform="rotate(173.4)"/>
<circle class="c" r="20" pathLength="360" stroke-dasharray="167.65 999" transform="rotate(5.75)"/>
</g>
<g id="labelsC">
<text transform="rotate(-90)" x="94">GH18(8)</text><text transform="rotate(-79.47)" x="94">MAA_10168</text><text transform="rotate(-68.94)" x="94">MAC_02367</text><text transform="rotate(-58.41)" x="94">GH18(19)</text><text transform="rotate(-47.88)" x="94">GH18(18)</text><text transform="rotate(-37.35)" x="94">MAA_09915</text><text transform="rotate(-26.82)" x="94">GH18(5)</text><text transform="rotate(-16.29)" x="94">MAA_10509</text><text transform="rotate(-5.76)" x="94">GH18(9)</text><text transform="rotate(4.77)" x="94">GH18(6)</text><text transform="rotate(15.3)" x="94">MAA_08154</text><text transform="rotate(25.83)" x="94">MAA_00431</text><text transform="rotate(36.36)" x="94">MAA_00157</text><text transform="rotate(46.89)" x="94">GH18(1)</text><text transform="rotate(57.42)" x="94">MAA_01650</text><text transform="rotate(67.95)" x="94">GH18(14)</text><text transform="rotate(78.48)" x="94">GH18(13)</text><text transform="rotate(89.01)" x="94">MAA_01596</text>
<text class="e" transform="rotate(-80.46)" x="-94">GH18(10)</text><text class="e" transform="rotate(-69.93)" x="-94">GH18(4)</text><text class="e" transform="rotate(-59.4)" x="-94">GH18(3)</text><text class="e" transform="rotate(-48.87)" x="-94">GH18(7)</text><text class="e" transform="rotate(-38.34)" x="-94">GH18(16)</text><text class="e" transform="rotate(-27.81)" x="-94">GH18(15)</text><text class="e" transform="rotate(-17.28)" x="-94">GH18(11)</text><text class="e" transform="rotate(-6.75)" x="-94">MAA_00415</text><text class="e" transform="rotate(3.78)" x="-94">MAA_09957</text><text class="e" transform="rotate(14.31)" x="-94">GH18(2)</text><text class="e" transform="rotate(24.84)" x="-94">GH18(17)</text><text class="e" transform="rotate(35.37)" x="-94">MAA_09578</text><text class="e" transform="rotate(45.9)" x="-94">MAA_00424</text><text class="e" transform="rotate(56.43)" x="-94">GH18(12)</text><text class="e" transform="rotate(66.96)" x="-94">MAC_09466</text>
</g>
<g id="marksC">
<use href="#st" transform="rotate(-68.94) translate(166,0)"/><circle class="dt" r="4" cx="178" transform="rotate(-68.94)"/>
<circle class="dt" r="4" cx="172" transform="rotate(25.83)"/>
<use href="#st" transform="rotate(-6.75) translate(-168,0)"/><circle class="dt" r="4" cx="-180" transform="rotate(-6.75)"/>
<use href="#st" transform="rotate(66.96) translate(-166,0)"/><circle class="dt" r="4" cx="-178" transform="rotate(66.96)"/>
</g>
</g>

<!-- PANEL D -->
<g id="pD" transform="translate(580,590) rotate(-3)">
<g id="edgesD" clip-path="url(#dclip)" transform="scale(1.05)">
<circle class="c" r="140" style="stroke-width:16" pathLength="360" stroke-dasharray="0.5 1.7" transform="rotate(-77.25)"/>
<circle class="c" r="132" pathLength="360" stroke-dasharray="6.6 2.2" transform="rotate(-77)"/>
<circle class="c" r="124" style="stroke-width:16" pathLength="360" stroke-dasharray="0.5 8.3" transform="rotate(-73.95)"/>
<circle class="c" r="116" pathLength="360" stroke-dasharray="17.6 8.8" transform="rotate(-73.7)"/>
<circle class="c" r="106" style="stroke-width:20" pathLength="360" stroke-dasharray="0.45 25.95" transform="rotate(-65.12)"/>
<circle class="c" r="96" pathLength="360" stroke-dasharray="52.8 26.4" transform="rotate(-64.9)"/>
<circle class="c" r="78" style="stroke-width:36" pathLength="360" stroke-dasharray="0.55 78.65" transform="rotate(-38.78)"/>
<circle class="c" r="60" pathLength="360" stroke-dasharray="237.6 999" transform="rotate(-38.5)"/>
<path d="M38 0H60" transform="rotate(80.3)"/>
<circle class="c" r="38" pathLength="360" stroke-dasharray="150 999" transform="rotate(5)"/>
<path class="r" d="M118 0H148" transform="rotate(-68.2)"/><path class="r" d="M118 0H148" transform="rotate(-59.4)"/><path class="r" d="M118 0H148" transform="rotate(-46.2)"/><path class="r" d="M118 0H148" transform="rotate(-24.2)"/><path class="r" d="M118 0H148" transform="rotate(-11)"/><path class="r" d="M118 0H148" transform="rotate(6.6)"/><path class="r" d="M118 0H148" transform="rotate(19.8)"/><path class="r" d="M118 0H148" transform="rotate(33)"/><path class="r" d="M118 0H148" transform="rotate(50.6)"/><path class="r" d="M118 0H148" transform="rotate(61.6)"/><path class="r" d="M118 0H148" transform="rotate(143)"/><path class="r" d="M118 0H148" transform="rotate(151.8)"/><path class="r" d="M118 0H148" transform="rotate(160.6)"/><path class="r" d="M118 0H148" transform="rotate(169.4)"/><path class="r" d="M118 0H148" transform="rotate(178.2)"/><path class="r" d="M118 0H148" transform="rotate(187)"/><path class="r" d="M118 0H148" transform="rotate(200.2)"/><path class="r" d="M118 0H148" transform="rotate(213.4)"/><path class="r" d="M118 0H148" transform="rotate(226.6)"/><path class="r" d="M118 0H148" transform="rotate(239.8)"/><path class="r" d="M118 0H148" transform="rotate(253)"/>
<path class="g" d="M118 0H148" transform="rotate(-63.8)"/><path class="g" d="M118 0H148" transform="rotate(-37.4)"/><path class="g" d="M118 0H148" transform="rotate(-15.4)"/><path class="g" d="M118 0H148" transform="rotate(11)"/><path class="g" d="M118 0H148" transform="rotate(28.6)"/><path class="g" d="M118 0H148" transform="rotate(68.2)"/><path class="g" d="M118 0H148" transform="rotate(99)"/><path class="g" d="M118 0H148" transform="rotate(112.2)"/><path class="g" d="M118 0H148" transform="rotate(125.4)"/><path class="g" d="M118 0H148" transform="rotate(165)"/><path class="g" d="M118 0H148" transform="rotate(191.4)"/><path class="g" d="M118 0H148" transform="rotate(217.8)"/><path class="g" d="M118 0H148" transform="rotate(235.4)"/><path class="g" d="M118 0H148" transform="rotate(248.6)"/>
</g>
<g id="labelsD">
<text transform="rotate(-77)" x="160">CYP620C3</text><text transform="rotate(-74.8)" x="160">CYP620P1</text><text transform="rotate(-72.6)" x="160">CYP620N1</text><text transform="rotate(-70.4)" x="160">CYP620Q1</text><text transform="rotate(-68.2)" x="160">CYP620F3</text><text transform="rotate(-66)" x="160">CYP619E1</text><text transform="rotate(-63.8)" x="160">CYP663D1</text><text transform="rotate(-61.6)" x="160">CYP621C1</text><text transform="rotate(-59.4)" x="160">CYP5058A4</text><text transform="rotate(-57.2)" x="160">CYP5148B3</text><text transform="rotate(-55)" x="160">CYP5317A1</text><text transform="rotate(-52.8)" x="160">CYP504A21</text><text transform="rotate(-50.6)" x="160">CYP504H1</text><text transform="rotate(-48.4)" x="160">CYP5341A4</text><text transform="rotate(-46.2)" x="160">CYP629C1</text><text transform="rotate(-44)" x="160">CYP5335A1</text><text transform="rotate(-41.8)" x="160">CYP511B2</text><text transform="rotate(-39.6)" x="160">CYP5336A1</text><text transform="rotate(-37.4)" x="160">CYP658F1</text><text transform="rotate(-35.2)" x="160">CYP58S1</text><text transform="rotate(-33)" x="160">CYP5292B1</text><text transform="rotate(-30.8)" x="160">CYP682P1</text><text transform="rotate(-28.6)" x="160">CYP542B4</text><text transform="rotate(-26.4)" x="160">CYP682Q1</text><text transform="rotate(-24.2)" x="160">CYP58R1</text><text transform="rotate(-22)" x="160">CYP58T2</text><text transform="rotate(-19.8)" x="160">CYP58T1</text><text transform="rotate(-17.6)" x="160">CYP61A1</text><text transform="rotate(-15.4)" x="160">CYP5323A1</text><text transform="rotate(-13.2)" x="160">CYP586F1</text><text transform="rotate(-11)" x="160">CYP586G1</text><text transform="rotate(-8.8)" x="160">CYP587C1</text><text transform="rotate(-6.6)" x="160">CYP617A5</text><text transform="rotate(-4.4)" x="160">CYP617A5</text><text transform="rotate(-2.2)" x="160">CYP617A4</text><text transform="rotate(0)" x="160">CYP617M1</text><text transform="rotate(2.2)" x="160">CYP617G3</text><text transform="rotate(4.4)" x="160">CYP539K1</text><text transform="rotate(6.6)" x="160">CYP539B4</text><text transform="rotate(8.8)" x="160">CYP539A10</text><text transform="rotate(11)" x="160">CYP584P1</text><text transform="rotate(13.2)" x="160">CYP52V1</text><text transform="rotate(15.4)" x="160">CYP584E14</text><text transform="rotate(17.6)" x="160">CYP698B1</text><text transform="rotate(19.8)" x="160">CYP698B1</text><text transform="rotate(22)" x="160">CYP68N3</text><text transform="rotate(24.2)" x="160">CYP68Y1</text><text transform="rotate(26.4)" x="160">CYP51F2</text><text transform="rotate(28.6)" x="160">CYP51F1</text><text transform="rotate(30.8)" x="160">CYP5282B3</text><text transform="rotate(33)" x="160">CYP5082C1</text><text transform="rotate(35.2)" x="160">CYP5538</text><text transform="rotate(37.4)" x="160">CYP5331A1</text><text transform="rotate(39.6)" x="160">CYP5330A1</text><text transform="rotate(41.8)" x="160">CYP5332A1</text><text transform="rotate(44)" x="160">CYP5324A1</text><text transform="rotate(46.2)" x="160">CYP540B20</text><text transform="rotate(48.4)" x="160">CYP540B21</text><text transform="rotate(50.6)" x="160">CYP63C1</text><text transform="rotate(52.8)" x="160">CYP5108C1</text><text transform="rotate(55)" x="160">CYP530E1</text><text transform="rotate(57.2)" x="160">CYP537B1</text><text transform="rotate(59.4)" x="160">CYP6007B1</text><text transform="rotate(61.6)" x="160">CYP5058B3</text><text transform="rotate(63.8)" x="160">CYP5058B2</text><text transform="rotate(66)" x="160">CYP64C8</text><text transform="rotate(68.2)" x="160">CYP637B1</text><text transform="rotate(70.4)" x="160">CYP5333A1</text><text transform="rotate(72.6)" x="160">CYP505B5</text><text transform="rotate(74.8)" x="160">CYP511B1</text><text transform="rotate(77)" x="160">CYP5080C1</text><text transform="rotate(79.2)" x="160">CYP5080B1</text><text transform="rotate(81.4)" x="160">CYP5327B1</text><text transform="rotate(83.6)" x="160">CYP611B1</text><text transform="rotate(85.8)" x="160">CYP5080D1</text><text transform="rotate(88)" x="160">CYP6001C1</text>
<text class="e" transform="rotate(-89.8)" x="-160">CYP6002A1</text><text class="e" transform="rotate(-87.6)" x="-160">CYP6003A1</text><text class="e" transform="rotate(-85.4)" x="-160">CYP6004A1</text><text class="e" transform="rotate(-83.2)" x="-160">CYP5111</text><text class="e" transform="rotate(-81)" x="-160">CYP532P3</text><text class="e" transform="rotate(-78.8)" x="-160">CYP58B2</text><text class="e" transform="rotate(-76.6)" x="-160">CYP5282D1</text><text class="e" transform="rotate(-74.4)" x="-160">CYP5301A1</text><text class="e" transform="rotate(-72.2)" x="-160">CYP5302A1</text><text class="e" transform="rotate(-70)" x="-160">CYP5303A1</text><text class="e" transform="rotate(-67.8)" x="-160">CYP505A1</text><text class="e" transform="rotate(-65.6)" x="-160">CYP505A2</text><text class="e" transform="rotate(-63.4)" x="-160">CYP53A1</text><text class="e" transform="rotate(-61.2)" x="-160">CYP5318A1</text><text class="e" transform="rotate(-59)" x="-160">CYP5284A1</text><text class="e" transform="rotate(-56.8)" x="-160">CYP55A2</text><text class="e" transform="rotate(-54.6)" x="-160">CYP5278K1</text><text class="e" transform="rotate(-52.4)" x="-160">CYP5272C1</text><text class="e" transform="rotate(-50.2)" x="-160">CYP5315A1</text><text class="e" transform="rotate(-48)" x="-160">CYP5328A1</text><text class="e" transform="rotate(-45.8)" x="-160">CYP5075A1</text><text class="e" transform="rotate(-43.6)" x="-160">CYP540E1</text><text class="e" transform="rotate(-41.4)" x="-160">CYP5319A1</text><text class="e" transform="rotate(-39.2)" x="-160">CYP528C1</text><text class="e" transform="rotate(-37)" x="-160">CYP5325A1</text><text class="e" transform="rotate(-34.8)" x="-160">CYP658E1</text><text class="e" transform="rotate(-32.6)" x="-160">CYP629A1</text><text class="e" transform="rotate(-30.4)" x="-160">CYP5259A1</text><text class="e" transform="rotate(-28.2)" x="-160">CYP5333B1</text><text class="e" transform="rotate(-26)" x="-160">CYP5334A1</text><text class="e" transform="rotate(-23.8)" x="-160">CYP5335B1</text><text class="e" transform="rotate(-21.6)" x="-160">CYP5336B1</text><text class="e" transform="rotate(-19.4)" x="-160">CYP5337A1</text><text class="e" transform="rotate(-17.2)" x="-160">CYP5338A1</text><text class="e" transform="rotate(-15)" x="-160">CYP5339A1</text><text class="e" transform="rotate(-12.8)" x="-160">CYP5340A1</text><text class="e" transform="rotate(-10.6)" x="-160">CYP5342A1</text><text class="e" transform="rotate(-8.4)" x="-160">CYP5343A1</text><text class="e" transform="rotate(-6.2)" x="-160">CYP5344A1</text><text class="e" transform="rotate(-4)" x="-160">CYP5345A1</text><text class="e" transform="rotate(-1.8)" x="-160">CYP5346A1</text><text class="e" transform="rotate(0.4)" x="-160">CYP5252A8</text><text class="e" transform="rotate(2.6)" x="-160">CYP684F1</text><text class="e" transform="rotate(4.8)" x="-160">CYP537A7</text><text class="e" transform="rotate(7)" x="-160">CYP5081A</text><text class="e" transform="rotate(9.2)" x="-160">CYP5081D</text><text class="e" transform="rotate(11.4)" x="-160">CYP5081C</text><text class="e" transform="rotate(13.6)" x="-160">CYP5081B</text><text class="e" transform="rotate(15.8)" x="-160">CYP570A</text><text class="e" transform="rotate(18)" x="-160">CYP570C8</text><text class="e" transform="rotate(20.2)" x="-160">CYP535A5</text><text class="e" transform="rotate(22.4)" x="-160">CYP5227G1</text><text class="e" transform="rotate(24.6)" x="-160">CYP535D4</text><text class="e" transform="rotate(26.8)" x="-160">CYP5080B4</text><text class="e" transform="rotate(29)" x="-160">CYP5104B</text><text class="e" transform="rotate(31.2)" x="-160">CYP53A2</text><text class="e" transform="rotate(33.4)" x="-160">CYP5310D1</text><text class="e" transform="rotate(35.6)" x="-160">CYP5320A1</text><text class="e" transform="rotate(37.8)" x="-160">CYP5331C1</text><text class="e" transform="rotate(40)" x="-160">CYP52W1</text><text class="e" transform="rotate(42.2)" x="-160">CYP5283A1</text><text class="e" transform="rotate(44.4)" x="-160">CYP5348A1</text><text class="e" transform="rotate(46.6)" x="-160">CYP5312A1</text><text class="e" transform="rotate(48.8)" x="-160">CYP5313A1</text><text class="e" transform="rotate(51)" x="-160">CYP5314A1</text><text class="e" transform="rotate(53.2)" x="-160">CYP5316A1</text><text class="e" transform="rotate(55.4)" x="-160">CYP5347A1</text><text class="e" transform="rotate(57.6)" x="-160">CYP5349A1</text><text class="e" transform="rotate(59.8)" x="-160">CYP658B1</text><text class="e" transform="rotate(62)" x="-160">CYP658A1</text><text class="e" transform="rotate(64.2)" x="-160">CYP5361A1</text><text class="e" transform="rotate(66.4)" x="-160">CYP658F2</text><text class="e" transform="rotate(68.6)" x="-160">CYP658C2</text><text class="e" transform="rotate(70.8)" x="-160">CYP658H1</text><text class="e" transform="rotate(73)" x="-160">CYP658C1</text><text class="e" transform="rotate(75.2)" x="-160">CYP658G1</text><text class="e" transform="rotate(77.4)" x="-160">CYP561F1</text><text class="e" transform="rotate(79.6)" x="-160">CYP658D1</text>
</g>
</g>
<g id="marksD">
<circle class="dt" r="4" cx="496" cy="380"/><circle class="dt" r="4" cx="505" cy="376"/><circle class="dt" r="4" cx="514" cy="372"/><circle class="dt" r="4" cx="523" cy="368"/>
<use href="#st" x="499" y="388"/><use href="#st" x="507" y="385"/><use href="#st" x="516" y="381"/><use href="#st" x="524" y="377"/>
<circle class="dt" r="4" cx="417" cy="442"/><circle class="dt" r="4" cx="424" cy="433"/><circle class="dt" r="4" cx="442" cy="431"/><circle class="dt" r="4" cx="419" cy="455"/>
<use href="#st" x="428" y="442"/><use href="#st" x="423" y="449"/>
<circle class="dt" r="4" cx="378" cy="527"/>
<circle class="dt" r="4" cx="368" cy="551"/><use href="#st" x="378" y="551"/>
<circle class="dt" r="4" cx="368" cy="559"/><use href="#st" x="378" y="559"/>
<circle class="dt" r="4" cx="368" cy="568"/><use href="#st" x="378" y="568"/>
<circle class="dt" r="4" cx="368" cy="577"/><use href="#st" x="378" y="577"/>
<circle class="dt" r="4" cx="368" cy="618"/><use href="#st" x="378" y="618"/>
<circle class="dt" r="4" cx="398" cy="682"/><use href="#st" x="400" y="697"/>
<use href="#st" x="458" y="739"/><circle class="dt" r="4" cx="452" cy="746"/>
<use href="#st" x="464" y="746"/><circle class="dt" r="4" cx="459" cy="753"/>
<use href="#st" x="502" y="763"/><circle class="dt" r="4" cx="498" cy="771"/>
<use href="#st" x="517" y="767"/><circle class="dt" r="4" cx="513" cy="774"/>
<use href="#st" x="539" y="784"/><use href="#st" x="554" y="786"/><circle class="dt" r="4" cx="553" cy="794"/><circle class="dt" r="4" cx="580" cy="786"/>
<circle class="dt" r="4" cx="773" cy="656"/><use href="#st" x="770" y="665"/>
<circle class="dt" r="4" cx="742" cy="713"/>
<use href="#st" x="718" y="737"/><circle class="dt" r="4" cx="724" cy="744"/>
<use href="#st" x="706" y="747"/>
<use href="#st" x="667" y="764"/><circle class="dt" r="4" cx="671" cy="772"/>
<use href="#st" x="705" y="405"/><circle class="dt" r="4" cx="710" cy="398"/>
<use href="#st" x="726" y="421"/><circle class="dt" r="4" cx="733" cy="414"/>
<use href="#st" x="747" y="447"/>
<use href="#st" x="788" y="552"/><circle class="dt" r="4" cx="799" cy="551"/>
<use href="#st" x="789" y="568"/><circle class="dt" r="4" cx="799" cy="569"/>
<use href="#st" x="790" y="577"/>
<use href="#st" x="789" y="586"/><circle class="dt" r="4" cx="799" cy="587"/>
<use href="#st" x="658" y="385"/><circle class="dt" r="4" cx="662" cy="376"/>
</g>
</svg>
